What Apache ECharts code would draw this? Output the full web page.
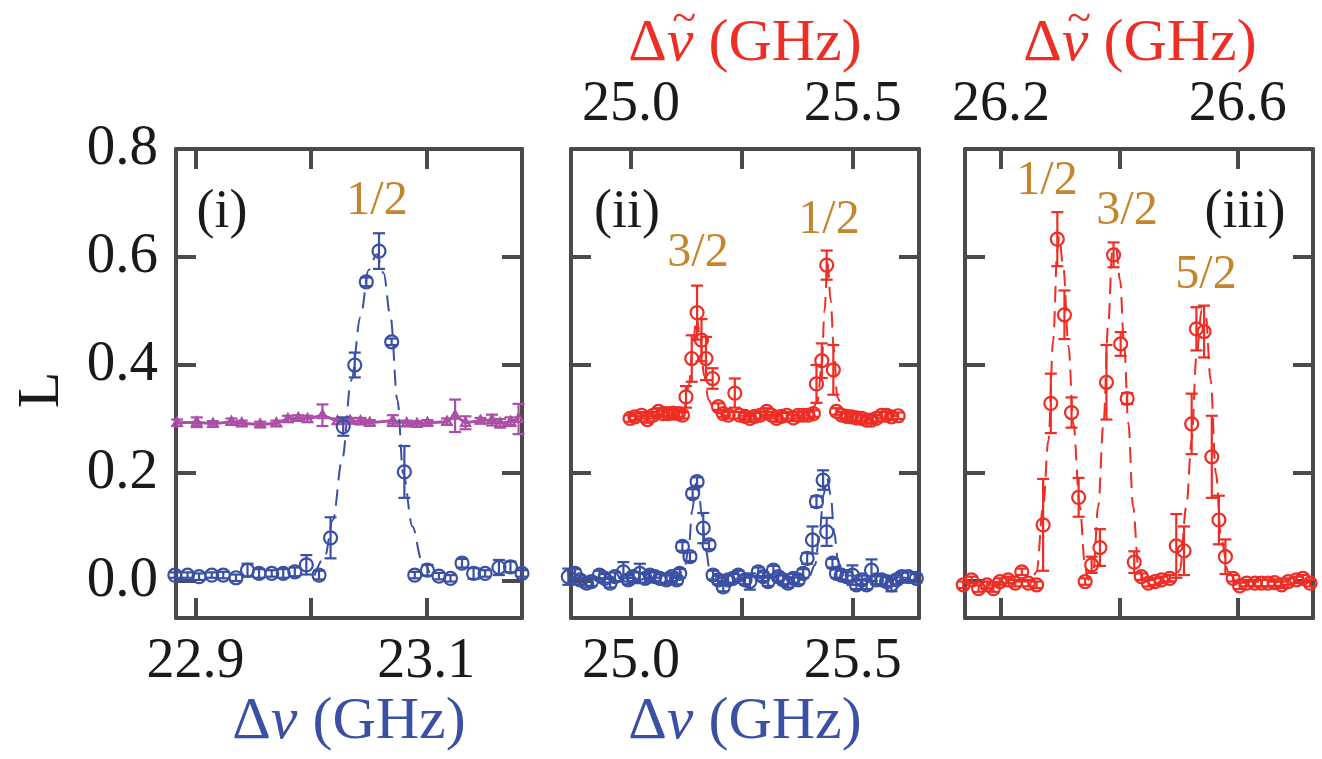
<!DOCTYPE html>
<html>
<head>
<meta charset="utf-8">
<script src="https://cdn.jsdelivr.net/npm/echarts@6/dist/echarts.min.js"></script>
<style>
  html, body { margin: 0; padding: 0; background: #fff; }
  #main { width: 1322px; height: 759px; }
</style>
</head>
<body>
<div id="main"></div>
<script>
// panel (i): blue resonance
const bx1 = [22.882, 22.893, 22.903, 22.914, 22.924, 22.935, 22.945, 22.955, 22.966, 22.976, 22.986, 22.996, 23.007, 23.017, 23.028, 23.038, 23.048, 23.059, 23.070, 23.081, 23.090, 23.101, 23.111, 23.121, 23.131, 23.141, 23.151, 23.163, 23.173, 23.183];
const by1 = [0.011, 0.011, 0.008, 0.011, 0.011, 0.006, 0.020, 0.014, 0.014, 0.014, 0.017, 0.030, 0.011, 0.080, 0.286, 0.400, 0.554, 0.611, 0.443, 0.202, 0.011, 0.020, 0.009, 0.005, 0.033, 0.014, 0.014, 0.025, 0.026, 0.014];
const be1 = [0.005, 0.005, 0.006, 0.005, 0.006, 0.006, 0.012, 0.008, 0.006, 0.008, 0.008, 0.018, 0.008, 0.038, 0.017, 0.023, 0.008, 0.033, 0.006, 0.048, 0.006, 0.010, 0.006, 0.006, 0.008, 0.010, 0.006, 0.014, 0.010, 0.006];
const fitX1 = [23.003, 23.012, 23.019, 23.027, 23.035, 23.043, 23.050, 23.057, 23.063, 23.069, 23.075, 23.080, 23.088, 23.096, 23.103];
const fitY1 = [0.010, 0.045, 0.113, 0.224, 0.372, 0.489, 0.576, 0.605, 0.570, 0.489, 0.335, 0.199, 0.101, 0.039, 0.015];
// panel (i): purple reference
const px1 = [22.884, 22.901, 22.915, 22.931, 22.940, 22.956, 22.970, 22.980, 22.989, 22.997, 23.010, 23.023, 23.034, 23.043, 23.051, 23.071, 23.083, 23.092, 23.101, 23.118, 23.125, 23.134, 23.147, 23.157, 23.164, 23.173, 23.180];
const py1 = [0.293, 0.294, 0.291, 0.295, 0.292, 0.290, 0.292, 0.300, 0.302, 0.300, 0.307, 0.296, 0.297, 0.296, 0.293, 0.297, 0.292, 0.291, 0.293, 0.295, 0.306, 0.293, 0.297, 0.298, 0.292, 0.295, 0.300];
const pe1 = [0.006, 0.009, 0.005, 0.006, 0.005, 0.005, 0.005, 0.006, 0.005, 0.006, 0.020, 0.005, 0.005, 0.006, 0.005, 0.010, 0.005, 0.005, 0.005, 0.006, 0.030, 0.012, 0.005, 0.010, 0.008, 0.008, 0.028];

// panel (ii): red
const rx2 = [24.998, 25.009, 25.024, 25.037, 25.050, 25.062, 25.073, 25.084, 25.095, 25.107, 25.116, 25.124, 25.137, 25.149, 25.159, 25.169, 25.184, 25.197, 25.208, 25.219, 25.234, 25.245, 25.257, 25.268, 25.279, 25.291, 25.306, 25.317, 25.328, 25.339, 25.351, 25.366, 25.377, 25.388, 25.399, 25.411, 25.418, 25.430, 25.441, 25.456, 25.463, 25.475, 25.486, 25.497, 25.508, 25.520, 25.531, 25.542, 25.553, 25.565, 25.576, 25.587, 25.602];
const ry2 = [0.301, 0.304, 0.307, 0.299, 0.307, 0.314, 0.310, 0.310, 0.311, 0.310, 0.307, 0.341, 0.412, 0.497, 0.446, 0.412, 0.375, 0.323, 0.310, 0.307, 0.348, 0.307, 0.305, 0.301, 0.305, 0.307, 0.314, 0.307, 0.301, 0.305, 0.307, 0.302, 0.307, 0.307, 0.307, 0.310, 0.365, 0.408, 0.585, 0.391, 0.314, 0.307, 0.305, 0.304, 0.302, 0.301, 0.298, 0.298, 0.301, 0.307, 0.307, 0.304, 0.306];
const re2 = [0.006, 0.006, 0.006, 0.006, 0.006, 0.006, 0.006, 0.006, 0.006, 0.006, 0.006, 0.020, 0.043, 0.050, 0.039, 0.040, 0.019, 0.006, 0.006, 0.006, 0.027, 0.006, 0.006, 0.006, 0.006, 0.006, 0.006, 0.006, 0.006, 0.006, 0.006, 0.006, 0.006, 0.006, 0.006, 0.006, 0.035, 0.032, 0.027, 0.046, 0.006, 0.006, 0.006, 0.006, 0.006, 0.006, 0.006, 0.006, 0.006, 0.006, 0.006, 0.006, 0.006];
const fitRX2 = [24.998, 25.100, 25.120, 25.130, 25.140, 25.148, 25.156, 25.165, 25.175, 25.190, 25.220, 25.400, 25.420, 25.430, 25.436, 25.443, 25.450, 25.457, 25.465, 25.480, 25.602];
const fitRY2 = [0.305, 0.306, 0.320, 0.360, 0.440, 0.490, 0.450, 0.380, 0.335, 0.312, 0.306, 0.306, 0.330, 0.400, 0.500, 0.590, 0.520, 0.430, 0.340, 0.310, 0.305];
// panel (ii): blue
const bx2 = [24.859, 24.874, 24.885, 24.900, 24.911, 24.929, 24.941, 24.953, 24.964, 24.983, 24.994, 25.005, 25.020, 25.032, 25.043, 25.054, 25.065, 25.080, 25.092, 25.103, 25.110, 25.116, 25.133, 25.139, 25.149, 25.163, 25.176, 25.185, 25.197, 25.208, 25.219, 25.230, 25.242, 25.257, 25.268, 25.287, 25.298, 25.309, 25.321, 25.332, 25.343, 25.354, 25.366, 25.377, 25.388, 25.397, 25.409, 25.418, 25.433, 25.441, 25.454, 25.463, 25.474, 25.486, 25.499, 25.508, 25.520, 25.531, 25.542, 25.553, 25.565, 25.576, 25.587, 25.598, 25.610, 25.625, 25.643];
const by2 = [0.008, 0.014, 0.002, -0.004, -0.001, 0.011, 0.005, -0.004, 0.008, 0.017, 0.002, 0.008, 0.014, 0.005, 0.011, 0.008, 0.005, 0.002, 0.008, 0.002, 0.014, 0.064, 0.045, 0.162, 0.184, 0.098, 0.067, 0.011, 0.002, -0.011, 0.002, 0.005, 0.011, 0.002, -0.001, 0.017, 0.008, -0.001, 0.020, 0.008, 0.002, -0.004, 0.005, 0.002, 0.014, 0.042, 0.076, 0.147, 0.187, 0.091, 0.033, 0.014, 0.011, 0.008, 0.011, -0.007, 0.002, -0.007, 0.020, 0.002, 0.002, -0.001, -0.007, 0.002, 0.008, 0.008, 0.005];
const be2 = [0.015, 0.008, 0.008, 0.008, 0.008, 0.008, 0.008, 0.008, 0.008, 0.018, 0.008, 0.008, 0.018, 0.008, 0.008, 0.008, 0.008, 0.008, 0.008, 0.008, 0.008, 0.008, 0.008, 0.008, 0.008, 0.028, 0.008, 0.008, 0.008, 0.008, 0.008, 0.008, 0.008, 0.008, 0.015, 0.008, 0.008, 0.008, 0.008, 0.008, 0.008, 0.008, 0.008, 0.008, 0.008, 0.010, 0.025, 0.010, 0.018, 0.026, 0.008, 0.008, 0.008, 0.008, 0.018, 0.008, 0.008, 0.008, 0.020, 0.008, 0.008, 0.008, 0.012, 0.008, 0.008, 0.008, 0.008];
const fitBX2 = [24.859, 25.100, 25.120, 25.130, 25.138, 25.146, 25.152, 25.160, 25.168, 25.178, 25.195, 25.400, 25.415, 25.425, 25.434, 25.442, 25.450, 25.458, 25.467, 25.480, 25.643];
const fitBY2 = [0.005, 0.006, 0.020, 0.060, 0.130, 0.180, 0.175, 0.120, 0.060, 0.020, 0.006, 0.006, 0.030, 0.090, 0.160, 0.190, 0.160, 0.090, 0.035, 0.010, 0.005];

// panel (iii): red
const rx3 = [26.136, 26.150, 26.162, 26.176, 26.187, 26.198, 26.212, 26.224, 26.235, 26.246, 26.260, 26.271, 26.284, 26.295, 26.307, 26.319, 26.331, 26.342, 26.353, 26.367, 26.378, 26.390, 26.402, 26.413, 26.425, 26.437, 26.449, 26.460, 26.471, 26.485, 26.496, 26.509, 26.522, 26.530, 26.543, 26.556, 26.568, 26.579, 26.592, 26.603, 26.615, 26.629, 26.640, 26.651, 26.662, 26.674, 26.685, 26.699, 26.710, 26.722];
const ry3 = [-0.007, 0.002, -0.014, -0.007, -0.014, -0.001, 0.002, -0.004, 0.017, -0.004, -0.007, 0.104, 0.329, 0.633, 0.493, 0.312, 0.155, -0.001, 0.030, 0.062, 0.368, 0.604, 0.439, 0.338, 0.035, 0.008, -0.004, -0.001, 0.002, 0.005, 0.065, 0.056, 0.291, 0.467, 0.462, 0.230, 0.113, 0.045, 0.005, -0.009, -0.004, -0.004, -0.004, -0.004, -0.003, -0.007, -0.001, 0.002, 0.005, -0.004];
const re3 = [0.006, 0.006, 0.006, 0.006, 0.006, 0.006, 0.006, 0.006, 0.006, 0.006, 0.006, 0.085, 0.055, 0.050, 0.045, 0.028, 0.036, 0.006, 0.015, 0.034, 0.069, 0.023, 0.022, 0.010, 0.020, 0.006, 0.006, 0.006, 0.006, 0.006, 0.059, 0.045, 0.056, 0.040, 0.048, 0.076, 0.045, 0.032, 0.006, 0.006, 0.006, 0.006, 0.006, 0.006, 0.006, 0.006, 0.006, 0.006, 0.006, 0.006];
const fitRX3 = [26.136, 26.250, 26.260, 26.271, 26.280, 26.288, 26.295, 26.298, 26.305, 26.314, 26.322, 26.333, 26.342, 26.347, 26.356, 26.364, 26.373, 26.381, 26.388, 26.394, 26.401, 26.408, 26.415, 26.423, 26.432, 26.443, 26.491, 26.502, 26.513, 26.522, 26.530, 26.539, 26.546, 26.554, 26.563, 26.572, 26.584, 26.598, 26.722];
const fitRY3 = [-0.003, -0.001, 0.017, 0.138, 0.261, 0.446, 0.613, 0.638, 0.582, 0.434, 0.292, 0.138, 0.026, 0.002, 0.020, 0.138, 0.292, 0.477, 0.613, 0.619, 0.557, 0.434, 0.292, 0.138, 0.026, -0.001, -0.001, 0.020, 0.138, 0.261, 0.415, 0.502, 0.489, 0.372, 0.199, 0.076, 0.017, -0.001, -0.002];

const yTicks = [0, 0.2, 0.4, 0.6, 0.8];

const BLUE = '#3a50a4', RED = '#ee2d24', PURPLE = '#ab4fa6', GOLD = '#c4862c', INK = '#1a1a1a', AXIS = '#4a4a4a';
const FONT = '"Liberation Serif", "Times New Roman", serif';
const TITLE_SIZE = 60;

let chart = echarts.init(document.getElementById('main'));

let grids = [
    { left: 176, top: 149, width: 346, height: 469 },
    { left: 571, top: 149, width: 348, height: 469 },
    { left: 965, top: 149, width: 348, height: 469 }
];

let xAx = (grid, min, max, ticks, labels, position) => ({
    type: 'value', gridIndex: grid, min, max, position,
    axisLine: { show: true, onZero: false, lineStyle: { color: AXIS, width: 4 } },
    axisTick: { show: true, inside: true, length: 20, customValues: ticks, lineStyle: { color: AXIS, width: 4 } },
    axisLabel: {
        show: labels.length > 0, customValues: labels, margin: 16,
        formatter: v => v.toFixed(1), fontFamily: FONT, fontSize: 56, color: INK
    },
    splitLine: { show: false }
})

let yAx = (grid, position, labels) => ({
    type: 'value', gridIndex: grid, min: -0.0685, max: 0.8, position,
    axisLine: { show: true, onZero: false, lineStyle: { color: AXIS, width: 4 } },
    axisTick: { show: true, inside: true, length: 20, customValues: yTicks, lineStyle: { color: AXIS, width: 4 } },
    axisLabel: {
        show: labels, customValues: yTicks, margin: 18,
        formatter: v => v.toFixed(1), fontFamily: FONT, fontSize: 57, color: INK
    },
    splitLine: { show: false }
})

// markers with error bars
let errSeries = (xs, ys, es, color, axis, shape) => ({
    type: 'custom', xAxisIndex: axis, yAxisIndex: axis, clip: false, z: 4,
    data: xs.map((x, i) => [x, ys[i], es[i] ?? 0.006]),
    renderItem: (params, api) => {
        let c = api.coord([api.value(0), api.value(1)]);
        let top = api.coord([api.value(0), api.value(1) + api.value(2)]);
        let bot = api.coord([api.value(0), api.value(1) - api.value(2)]);
        let st = { stroke: color, lineWidth: 2.2, fill: 'none' };
        let cap = 6;
        let kids = [
            { type: 'line', shape: { x1: c[0], y1: top[1], x2: c[0], y2: bot[1] }, style: st },
            { type: 'line', shape: { x1: c[0] - cap, y1: top[1], x2: c[0] + cap, y2: top[1] }, style: st },
            { type: 'line', shape: { x1: c[0] - cap, y1: bot[1], x2: c[0] + cap, y2: bot[1] }, style: st }
        ];
        if (shape == 'tri') {
            kids.push({ type: 'polygon', shape: { points: [[c[0], c[1] - 5], [c[0] - 4.5, c[1] + 3], [c[0] + 4.5, c[1] + 3]] }, style: st });
        } else {
            kids.push({ type: 'circle', shape: { cx: c[0], cy: c[1], r: 6.5 }, style: st });
        }
        return { type: 'group', children: kids };
    }
})

let lineSeries = (xs, ys, color, axis, dashed) => ({
    type: 'line', xAxisIndex: axis, yAxisIndex: axis, clip: false, z: 3,
    data: xs.map((x, i) => [x, ys[i]]),
    showSymbol: false, symbol: 'none',
    smooth: dashed ? 0.35 : false, smoothMonotone: 'x',
    lineStyle: { color, width: dashed ? 2 : 3, type: dashed ? [16, 9] : 'solid' },
    silent: true, animation: false
})

let txt = (text, x, y, color, size, extra) => Object.assign({
    type: 'text', x, y,
    style: { text, fill: color, font: size + 'px ' + FONT, textAlign: 'center', textVerticalAlign: 'middle' }
}, extra || {})

// measure the pieces of "Δν (GHz)" so the tilde can sit over the ν
let ctx = document.createElement('canvas').getContext('2d');
let measure = (s, font) => { ctx.font = font; return ctx.measureText(s).width; };
let wDelta = measure('Δ', TITLE_SIZE + 'px ' + FONT);
let wNu = measure('ν', 'italic ' + TITLE_SIZE + 'px ' + FONT);
let wRest = measure(' (GHz)', TITLE_SIZE + 'px ' + FONT);

let freqLabel = (cx, cy, color, tilde) => {
    let start = cx - (wDelta + wNu + wRest) / 2;
    let items = [{
        type: 'text', x: cx, y: cy,
        style: {
            text: '{a|Δ}{b|ν}{a| (GHz)}',
            textAlign: 'center', textVerticalAlign: 'middle',
            rich: {
                a: { fill: color, font: TITLE_SIZE + 'px ' + FONT },
                b: { fill: color, font: 'italic ' + TITLE_SIZE + 'px ' + FONT }
            }
        }
    }];
    if (tilde) {
        items.push({
            type: 'text', x: start + wDelta + wNu / 2 + 4, y: cy - 24,
            style: { text: '~', fill: color, font: '44px ' + FONT, textAlign: 'center', textVerticalAlign: 'middle' }
        });
    }
    return items;
}

let option = {
    animation: false,
    backgroundColor: '#fff',
    grid: grids,
    xAxis: [
        xAx(0, 22.883, 23.183, [22.9, 23.0, 23.1], [22.9, 23.1], 'bottom'),
        xAx(0, 22.883, 23.183, [22.9, 23.0, 23.1], [], 'top'),
        xAx(1, 24.865, 25.649, [25.0, 25.25, 25.5], [25.0, 25.5], 'bottom'),
        xAx(1, 24.865, 25.649, [25.0, 25.25, 25.5], [25.0, 25.5], 'top'),
        xAx(2, 26.139, 26.727, [26.2, 26.4, 26.6], [], 'bottom'),
        xAx(2, 26.139, 26.727, [26.2, 26.4, 26.6], [26.2, 26.6], 'top')
    ],
    yAxis: [
        yAx(0, 'left', true), yAx(0, 'right', false),
        yAx(1, 'left', false), yAx(1, 'right', false),
        yAx(2, 'left', false), yAx(2, 'right', false)
    ],
    series: [
        lineSeries(px1, py1, PURPLE, 0, false),
        errSeries(px1, py1, pe1, PURPLE, 0, 'tri'),
        lineSeries(fitX1, fitY1, BLUE, 0, true),
        errSeries(bx1, by1, be1, BLUE, 0),
        lineSeries(fitRX2, fitRY2, RED, 2, true),
        errSeries(rx2, ry2, re2, RED, 2),
        lineSeries(fitBX2, fitBY2, BLUE, 2, true),
        errSeries(bx2, by2, be2, BLUE, 2),
        lineSeries(fitRX3, fitRY3, RED, 4, true),
        errSeries(rx3, ry3, re3, RED, 4)
    ],
    graphic: [
        txt('L', 42, 390, INK, 60, { rotation: Math.PI / 2 }),
        ...freqLabel(349, 722, BLUE, false),
        ...freqLabel(745, 722, BLUE, false),
        ...freqLabel(745, 44, RED, true),
        ...freqLabel(1140, 44, RED, true),
        txt('(i)', 222, 213, INK, 54),
        txt('(ii)', 627, 213, INK, 54),
        txt('(iii)', 1245, 213, INK, 54),
        txt('1/2', 377, 201, GOLD, 48),
        txt('3/2', 698, 253, GOLD, 48),
        txt('1/2', 829, 220, GOLD, 48),
        txt('1/2', 1047, 181, GOLD, 48),
        txt('3/2', 1127, 211, GOLD, 48),
        txt('5/2', 1206, 275, GOLD, 48)
    ]
};

chart.setOption(option);
</script>
</body>
</html>
